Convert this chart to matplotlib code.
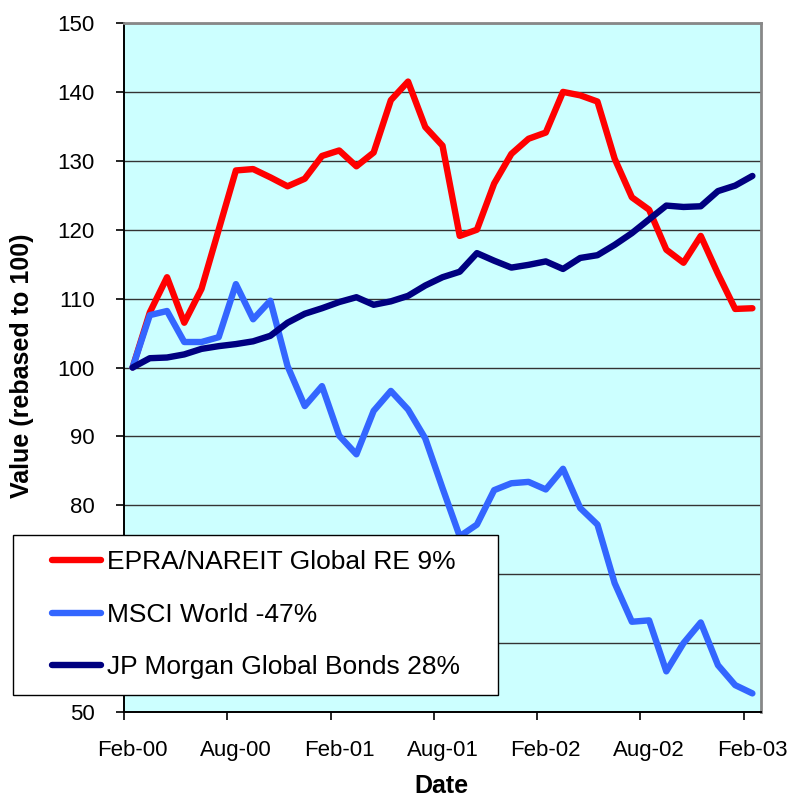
import matplotlib
matplotlib.use('Agg')
import matplotlib.pyplot as plt
from matplotlib.legend_handler import HandlerLine2D
import numpy as np

plt.rcParams['font.family'] = ['Liberation Sans', 'DejaVu Sans']

# Monthly values, Feb-00 .. Feb-03, rebased to 100
months = ['Feb-00', 'Mar-00', 'Apr-00', 'May-00', 'Jun-00', 'Jul-00', 'Aug-00', 'Sep-00', 'Oct-00',
          'Nov-00', 'Dec-00', 'Jan-01', 'Feb-01', 'Mar-01', 'Apr-01', 'May-01', 'Jun-01', 'Jul-01',
          'Aug-01', 'Sep-01', 'Oct-01', 'Nov-01', 'Dec-01', 'Jan-02', 'Feb-02', 'Mar-02', 'Apr-02',
          'May-02', 'Jun-02', 'Jul-02', 'Aug-02', 'Sep-02', 'Oct-02', 'Nov-02', 'Dec-02', 'Jan-03',
          'Feb-03']

epra = [100.0, 108.0, 113.1, 106.5, 111.4, 120.0, 128.6, 128.8, 127.6, 126.3, 127.4, 130.7,
        131.5, 129.2, 131.2, 138.8, 141.5, 134.9, 132.2, 119.1, 120.0, 126.7, 131.0, 133.2,
        134.1, 140.0, 139.5, 138.6, 130.3, 124.7, 122.9, 117.1, 115.2, 119.1, 113.6, 108.5,
        108.6]

msci = [100.0, 107.6, 108.2, 103.7, 103.7, 104.4, 112.1, 107.0, 109.7, 100.2, 94.4, 97.3,
        90.1, 87.4, 93.7, 96.6, 93.9, 89.7, 82.5, 75.5, 77.2, 82.2, 83.2, 83.4,
        82.3, 85.3, 79.6, 77.2, 68.7, 63.1, 63.3, 55.9, 60.0, 63.0, 56.8, 53.9,
        52.7]

jpm = [100.0, 101.35, 101.45, 101.9, 102.7, 103.1, 103.4, 103.8, 104.6, 106.5, 107.8, 108.6,
       109.5, 110.2, 109.1, 109.6, 110.4, 111.9, 113.1, 113.9, 116.6, 115.5, 114.5, 114.9,
       115.4, 114.3, 115.9, 116.3, 117.8, 119.5, 121.5, 123.5, 123.3, 123.4, 125.6, 126.4,
       127.8]

series_names = ['EPRA/NAREIT Global RE 9%', 'MSCI World -47%', 'JP Morgan Global Bonds 28%']
tick_every = 6

x = np.arange(len(months))

fig = plt.figure(figsize=(7.91, 7.97), dpi=100)
ax = fig.add_axes([124 / 791, 1 - 712 / 797, 637 / 791, 689 / 797])
ax.set_facecolor('#ccffff')

# Series
lines = []
for vals, col, name in zip([epra, msci, jpm], ['#ff0000', '#3366ff', '#000080'], series_names):
    ln, = ax.plot(x, vals, color=col, lw=4.6, solid_joinstyle='round', solid_capstyle='round',
                  label=name, zorder=3)
    lines.append(ln)

# Axes
ax.set_xlim(-0.5, len(months) - 0.5)
ax.set_ylim(50, 150)
ax.set_yticks(np.arange(50, 151, 10))
ax.yaxis.grid(True, color='#333333', lw=1.0)
ax.set_axisbelow(True)

ax.set_xticks(x[::tick_every])
ax.set_xticklabels(months[::tick_every])
ax.set_xticks(np.arange(-0.5, len(months) - 1, tick_every), minor=True)
ax.tick_params(axis='x', which='major', length=0, pad=20, labelsize=16)
ax.tick_params(axis='x', which='minor', length=6, width=1.2, color='black')
ax.tick_params(axis='y', length=6, width=1.2, pad=15, labelsize=16)

for s in ['left', 'bottom']:
    ax.spines[s].set_color('black')
    ax.spines[s].set_linewidth(1.4)
for s in ['top', 'right']:
    ax.spines[s].set_color('#888888')
    ax.spines[s].set_linewidth(2.0)

ax.set_xlabel('Date', fontsize=18, fontweight='bold', va='top')
ax.xaxis.set_label_coords(0.499, -0.09)
ax.set_ylabel('Value (rebased to 100)', fontsize=18, fontweight='bold')
ax.yaxis.set_label_coords(-0.141, 0.502)

# Legend
leg = fig.legend(handles=lines, loc='upper left',
                 bbox_to_anchor=(13 / 791, 1 - 535 / 797, 485 / 791, 0.0), mode='expand',
                 borderaxespad=0, fontsize=19, frameon=True, fancybox=False, framealpha=1,
                 edgecolor='black', handlelength=2.74, handletextpad=0.25, labelspacing=1.08,
                 borderpad=0.58,
                 handler_map={ln: HandlerLine2D(xpad=0.89) for ln in lines})
leg.get_frame().set_linewidth(1.0)

plt.savefig('out.png', dpi=100)
